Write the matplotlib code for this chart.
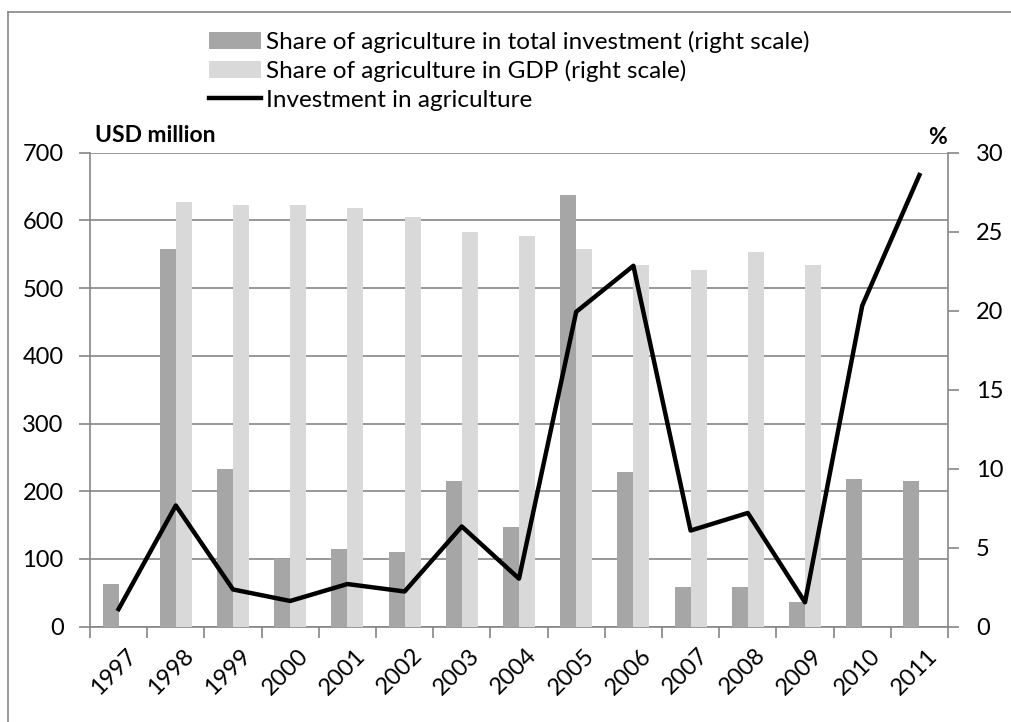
import matplotlib.pyplot as plt
from matplotlib.lines import Line2D
from matplotlib.transforms import ScaledTranslation
import numpy as np

# data
years = ['1997', '1998', '1999', '2000', '2001', '2002', '2003', '2004',
         '2005', '2006', '2007', '2008', '2009', '2010', '2011']
share_invest = [2.7, 23.9, 10.0, 4.3, 4.9, 4.7, 9.2, 6.3,
                27.3, 9.8, 2.5, 2.5, 1.55, 9.35, 9.25]
share_gdp = [np.nan, 26.9, 26.7, 26.7, 26.5, 25.9, 25.0, 24.7,
             23.9, 22.9, 22.6, 23.7, 22.9, np.nan, np.nan]
invest_agri = [26, 179, 55, 38, 63, 52, 148, 71,
               465, 533, 142, 168, 36, 474, 667]

plt.rcParams['font.family'] = ['Lato', 'DejaVu Sans']
grid_col = '#868686'

fig = plt.figure(figsize=(10.12, 7.22), dpi=100)
pos = [90 / 1012, 1 - 626.7 / 722, 858 / 1012, 474 / 722]

# left axis: grid, ticks, spines
ax = fig.add_axes(pos)
x = np.arange(len(years))
ax.set_xlim(-0.5, len(years) - 0.5)
ax.set_ylim(0, 700)
ax.set_yticks(np.arange(0, 701, 100))
ax.yaxis.grid(True, color=grid_col, linewidth=1.2)
ax.set_axisbelow(True)
for s in ['top', 'right']:
    ax.spines[s].set_visible(False)
for s in ['left', 'bottom']:
    ax.spines[s].set_color(grid_col)
    ax.spines[s].set_linewidth(1.2)
ax.tick_params(axis='y', length=8, color=grid_col, width=1.2, pad=11, labelsize=17)
ax.set_xticks(x)
ax.set_xticklabels(years, rotation=45, ha='right', rotation_mode='anchor', fontsize=17)
ax.tick_params(axis='x', which='major', length=0, pad=13)
shift = ScaledTranslation(7 / 100, 0, fig.dpi_scale_trans)
for lbl in ax.get_xticklabels():
    lbl.set_transform(lbl.get_transform() + shift)
ax.set_xticks(np.arange(-0.5, len(years)), minor=True)
ax.tick_params(axis='x', which='minor', length=8, color=grid_col, width=1.2)

# right axis: bars
ax2 = ax.twinx()
ax2.set_ylim(0, 30)
ax2.set_yticks(np.arange(0, 31, 5))
ax2.patch.set_visible(False)
for s in ['top', 'left', 'bottom']:
    ax2.spines[s].set_visible(False)
ax2.spines['right'].set_color(grid_col)
ax2.spines['right'].set_linewidth(1.2)
ax2.tick_params(axis='y', length=8, color=grid_col, width=1.2, pad=12, labelsize=17)
w = 0.28
b1 = ax2.bar(x - w / 2, share_invest, width=w, color='#a6a6a6',
             label='Share of agriculture in total investment (right scale)')
b2 = ax2.bar(x + w / 2, share_gdp, width=w, color='#d9d9d9',
             label='Share of agriculture in GDP (right scale)')

# top layer: line on left scale
ax3 = fig.add_axes(pos, sharex=ax, sharey=ax)
ax3.axis('off')
ax3.patch.set_visible(False)
ln, = ax3.plot(x, invest_agri, color='black', linewidth=3.2,
               label='Investment in agriculture')
ax.set_zorder(0)
ax2.set_zorder(1)
ax3.set_zorder(2)

fig.text(95 / 1012, 1 - 135 / 722, 'USD million', fontsize=16.5, fontweight='bold',
         va='center', ha='left')
fig.text(947 / 1012, 1 - 138 / 722, '%', fontsize=16.5, fontweight='bold',
         va='center', ha='right')

fig.legend(handles=[b1, b2, ln], loc='upper left',
           bbox_to_anchor=(209 / 1012, 1 - 31 / 722), frameon=False,
           fontsize=17.5, handlelength=2.15, handletextpad=0.2,
           labelspacing=0.3, borderaxespad=0, borderpad=0)

# outer frame
fig.add_artist(Line2D([8 / 1012, 8 / 1012], [0, 1 - 12 / 722],
                      color=grid_col, linewidth=1.2, transform=fig.transFigure))
fig.add_artist(Line2D([8 / 1012, 1], [1 - 12 / 722, 1 - 12 / 722],
                      color=grid_col, linewidth=1.2, transform=fig.transFigure))

fig.savefig('out.png', dpi=100)
